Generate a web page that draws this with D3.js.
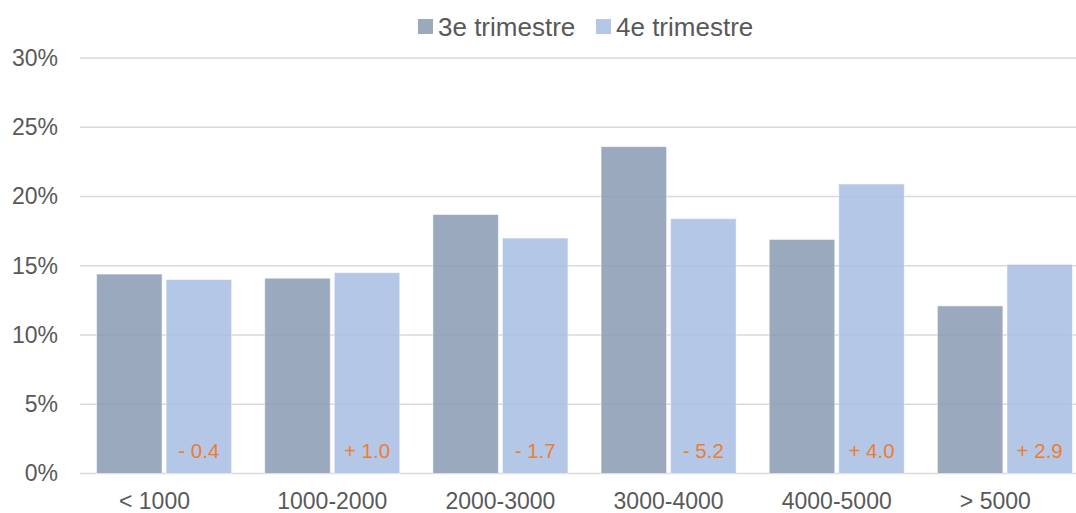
<!DOCTYPE html>
<html>
<head>
<meta charset="utf-8">
<script src="https://cdn.jsdelivr.net/npm/d3@7"></script>
<style>
  body { margin: 0; background: #fff; }
  text { font-family: "Liberation Sans", Arial, sans-serif; }
</style>
</head>
<body>
<div id="chart"></div>
<script>
// data (first and last labels carry trailing spaces in the source)
const categories = ["< 1000\u00a0\u00a0\u00a0", "1000-2000", "2000-3000", "3000-4000", "4000-5000", "> 5000\u00a0\u00a0\u00a0"];
const seriesNames = ["3e trimestre", "4e trimestre"];
const q3 = [14.4, 14.1, 18.7, 23.6, 16.9, 12.1];
const q4 = [14.0, 14.5, 17.0, 18.4, 20.9, 15.1];
const diffLabels = ["- 0.4", "+ 1.0", "- 1.7", "- 5.2", "+ 4.0", "+ 2.9"];
const yTicks = [0, 5, 10, 15, 20, 25, 30];

const width = 1076, height = 513;
const plotLeft = 80, plotRight = 1089, plotTop = 58, plotBottom = 473.5;
const colors = {"3e trimestre": "#8A9AB4", "4e trimestre": "#A7BDE3"};

const rows = categories.map((c, i) => ({cat: c, values: [q3[i], q4[i]], diff: diffLabels[i]}));

const svg = d3.select("#chart")
  .append("svg")
  .attr("width", width)
  .attr("height", height);

const x0 = d3.scaleBand()
  .domain(categories)
  .range([plotLeft, plotRight])
  .paddingInner(0.197)
  .paddingOuter(0.0985);

const x1 = d3.scaleBand()
  .domain(seriesNames)
  .range([0, x0.bandwidth()])
  .paddingInner(0.058);

const y = d3.scaleLinear()
  .domain([0, 30])
  .range([plotBottom, plotTop]);

// gridlines
svg.append("g")
  .selectAll("line")
  .data(yTicks)
  .join("line")
    .attr("x1", plotLeft)
    .attr("x2", width)
    .attr("y1", d => y(d))
    .attr("y2", d => y(d))
    .attr("stroke", "#D9D9D9")
    .attr("stroke-width", 1.4);

// y axis labels
const yAxis = d3.axisLeft(y)
  .tickValues(yTicks)
  .tickFormat(d => d + "%")
  .tickSize(0)
  .tickPadding(0);

svg.append("g")
  .attr("transform", `translate(${plotLeft - 22},0)`)
  .call(yAxis)
  .call(g => g.select(".domain").remove())
  .selectAll("text")
    .attr("font-size", "23px")
    .attr("fill", "#595959");

// bars
const groups = svg.append("g")
  .selectAll("g")
  .data(rows)
  .join("g")
    .attr("transform", d => `translate(${x0(d.cat)},0)`);

groups.selectAll("rect")
  .data(d => d.values.map((v, i) => ({name: seriesNames[i], value: v})))
  .join("rect")
    .attr("x", d => x1(d.name))
    .attr("width", x1.bandwidth())
    .attr("y", d => y(d.value))
    .attr("height", d => y(0) - y(d.value))
    .attr("fill", d => colors[d.name])
    .attr("fill-opacity", 0.85)
    .attr("stroke", "#ffffff")
    .attr("stroke-opacity", 0.5)
    .attr("stroke-width", 1);

// difference labels inside the 4th quarter bars
groups.append("text")
  .attr("x", x1(seriesNames[1]) + x1.bandwidth() / 2)
  .attr("y", 458)
  .attr("text-anchor", "middle")
  .attr("font-size", "20.5px")
  .attr("fill", "#ED7D31")
  .text(d => d.diff);

// x axis labels
const xAxis = d3.axisBottom(x0).tickSize(0).tickPadding(0);
svg.append("g")
  .attr("transform", `translate(0,${plotBottom + 19})`)
  .call(xAxis)
  .call(g => g.select(".domain").remove())
  .selectAll("text")
    .attr("font-size", "23px")
    .attr("fill", "#595959")
    .style("white-space", "pre");

// legend
const legend = svg.append("g").attr("transform", "translate(418,19)");
const legendX = [0, 178];
seriesNames.forEach((s, i) => {
  const lg = legend.append("g").attr("transform", `translate(${legendX[i]},0)`);
  lg.append("rect")
    .attr("width", 15)
    .attr("height", 15)
    .attr("fill", colors[s])
    .attr("fill-opacity", 0.85);
  lg.append("text")
    .attr("x", 20)
    .attr("y", 16.5)
    .attr("font-size", "26px")
    .attr("fill", "#595959")
    .text(s);
});
</script>
</body>
</html>
